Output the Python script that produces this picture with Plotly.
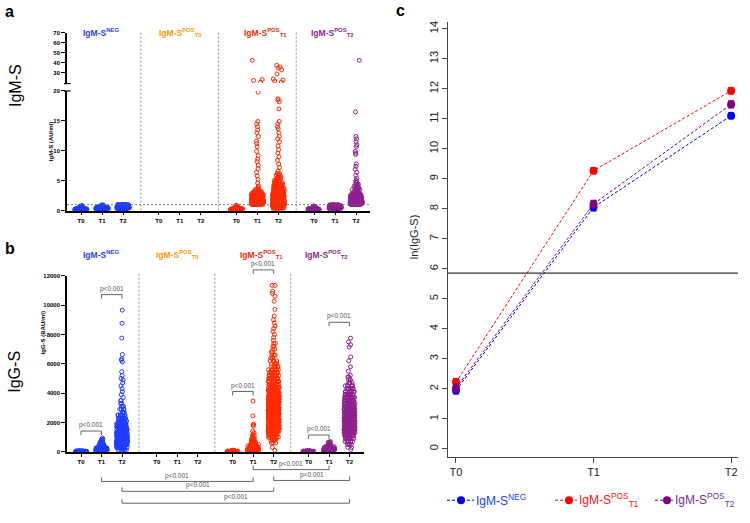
import numpy as np
import plotly.graph_objects as go

W, H = 750, 523


def px(x):
    return x / W


def py(y):
    return 1 - y / H


# ---------------------------------------------------------------- data
TIMES = ["T0", "T1", "T2"]
GROUP_LABELS = ["IgM-S<sup>NEG</sup>", "IgM-S<sup>POS</sup><sub>T0</sub>",
                "IgM-S<sup>POS</sup><sub>T1</sub>", "IgM-S<sup>POS</sup><sub>T2</sub>"]
GROUP_COLORS = ["#1f3cff", "#ff9a00", "#ff2a00", "#8e1f8e"]

# Panel a: IgM-S (AU/ml), (level, number of subjects)
a_neg_t0 = [(0.05, 35), (0.15, 40), (0.25, 32), (0.35, 18), (0.45, 9), (0.55, 5), (0.65, 3), (0.75, 2), (0.85, 1)]
a_neg_t1 = [(0.05, 14), (0.15, 26), (0.25, 38), (0.35, 45), (0.45, 40), (0.55, 26), (0.65, 12), (0.75, 6),
            (0.85, 3), (0.95, 2)]
a_neg_t2 = [(0.15, 6), (0.25, 14), (0.35, 26), (0.45, 40), (0.55, 45), (0.65, 45), (0.75, 45), (0.85, 40),
            (0.95, 26)]
a_pos1_t0 = [(0.05, 26), (0.15, 32), (0.25, 26), (0.35, 15), (0.45, 7), (0.55, 4), (0.65, 2), (0.75, 2), (0.9, 1)]
a_pos1_t1 = [(1.1, 45), (1.3, 50), (1.5, 50), (1.7, 45), (1.9, 38), (2.1, 32), (2.3, 28), (2.5, 24), (2.7, 18),
             (2.9, 12), (3.2, 6), (3.5, 4), (3.8, 2), (4.1, 1), (4.6, 1), (5.2, 1), (5.8, 1), (6.4, 1), (7.0, 1),
             (7.6, 1), (8.2, 1), (8.6, 1), (9.2, 1), (9.9, 1), (10.7, 1), (11.2, 1), (11.6, 1), (12.4, 1),
             (13.0, 1), (13.5, 1), (14.0, 1), (14.5, 1), (14.9, 1), (19.8, 1)]
a_pos1_t1_high = [21.0, 22.6, 23.5, 42.5]
a_pos1_t2 = [(0.2, 10), (0.5, 20), (0.8, 35), (1.1, 48), (1.4, 52), (1.7, 48), (2.0, 42), (2.3, 36), (2.6, 30),
             (2.9, 26), (3.2, 22), (3.5, 18), (3.8, 14), (4.1, 11), (4.4, 9), (4.7, 7), (5.0, 6), (5.3, 5),
             (5.6, 4), (5.9, 3), (6.2, 2), (6.6, 1), (7.2, 1), (7.8, 1), (8.4, 1), (9.0, 1), (9.6, 1), (10.2, 1),
             (10.8, 1), (11.5, 1), (12.0, 1), (12.4, 1), (13.0, 1), (13.7, 1), (14.0, 1), (14.5, 1), (14.9, 1),
             (17.0, 1), (18.2, 1), (18.5, 1), (18.7, 1)]
a_pos1_t2_high = [21.0, 22.0, 23.0, 24.0, 29.0, 33.0, 35.0, 36.0, 37.6]
a_pos2_t0 = [(0.05, 22), (0.15, 28), (0.25, 24), (0.35, 14), (0.45, 7), (0.55, 4), (0.65, 2), (0.8, 1)]
a_pos2_t1 = [(0.15, 10), (0.25, 18), (0.35, 26), (0.45, 32), (0.55, 35), (0.65, 35), (0.75, 32), (0.85, 22),
             (0.95, 12)]
a_pos2_t2 = [(1.1, 40), (1.3, 45), (1.5, 40), (1.7, 32), (1.9, 26), (2.1, 20), (2.3, 16), (2.5, 12), (2.7, 10),
             (2.9, 8), (3.2, 7), (3.5, 6), (3.8, 5), (4.1, 4), (4.4, 3), (4.7, 2), (5.0, 2), (5.4, 1), (5.9, 1),
             (6.4, 1), (6.9, 1), (7.4, 1), (7.8, 1), (9.4, 1), (9.6, 1), (9.9, 1), (10.7, 1), (11.0, 1),
             (11.5, 1), (12.0, 1), (12.4, 1), (16.5, 1)]
a_pos2_t2_high = [42.5]

# Panel b: IgG-S (BAU/ml), (level, number of subjects)
b_neg_t0 = [(5, 25), (15, 30), (30, 25), (50, 12)]
b_neg_t1 = [(20, 26), (80, 32), (150, 32), (250, 26), (350, 15), (450, 9), (550, 6), (650, 4), (750, 3),
            (850, 2), (940, 1)]
b_neg_t2 = [(100, 8), (300, 25), (500, 40), (700, 45), (900, 45), (1100, 42), (1300, 38), (1500, 32), (1700, 26),
            (1900, 20), (2100, 14), (2300, 10), (2500, 7), (2700, 5), (2900, 4), (3100, 3), (3300, 2), (3500, 2),
            (3700, 1), (3900, 1), (4100, 1), (4300, 1), (4500, 1), (4700, 1), (4900, 1), (5000, 1), (5200, 1),
            (5460, 1), (6130, 1), (6250, 1), (6340, 1), (6630, 1), (7755, 1), (8766, 1), (9660, 1)]
b_pos1_t0 = [(5, 20), (20, 26), (40, 20), (70, 10), (100, 3)]
b_pos1_t1 = [(30, 32), (100, 38), (200, 35), (300, 26), (400, 17), (500, 11), (600, 8), (700, 5), (800, 4),
             (900, 3), (1000, 2), (1100, 2), (1200, 1), (1300, 1), (1410, 1), (1750, 1), (1820, 1), (1890, 1),
             (2450, 1), (3460, 1)]
b_pos1_t2 = [(100, 1), (300, 1), (600, 3), (800, 6), (1000, 10), (1200, 16), (1400, 22), (1600, 30), (1800, 36),
             (2000, 42), (2200, 45), (2400, 45), (2600, 45), (2800, 45), (3000, 42), (3200, 38), (3400, 33),
             (3600, 30), (3800, 27), (4000, 24), (4200, 22), (4400, 19), (4600, 17), (4800, 15), (5000, 14),
             (5200, 12), (5400, 10), (5600, 8), (5800, 6), (6000, 5), (6200, 4), (6400, 3), (6600, 3), (6800, 2),
             (7000, 2), (7200, 2), (7400, 2), (7600, 1), (7800, 1), (8000, 1), (8200, 1), (8400, 1), (8580, 1),
             (8800, 1), (9000, 1), (9260, 1), (9710, 1), (10270, 1), (10610, 1), (10800, 1), (10950, 1),
             (11350, 2)]
b_pos2_t0 = [(5, 20), (20, 26), (40, 15), (60, 6)]
b_pos2_t1 = [(20, 20), (80, 28), (150, 32), (250, 26), (350, 15), (450, 8), (550, 4), (650, 2), (700, 1)]
b_pos2_t2 = [(150, 1), (300, 2), (500, 4), (700, 7), (900, 12), (1100, 18), (1300, 24), (1500, 30), (1700, 33),
             (1900, 36), (2100, 38), (2300, 38), (2500, 36), (2700, 33), (2900, 30), (3100, 26), (3300, 23),
             (3500, 20), (3700, 17), (3900, 14), (4100, 11), (4300, 8), (4500, 6), (4700, 4), (4900, 3), (5100, 2),
             (5210, 1), (5500, 1), (5800, 1), (6200, 1), (6470, 1), (7150, 1), (7300, 1), (7500, 1), (7750, 1)]

# Panel c: mean ln(IgG-S) with error
c_times = ["T0", "T1", "T2"]
c_neg = [1.95, 8.05, 11.10]
c_neg_err = [0.12, 0.12, 0.10]
c_pos_t1 = [2.22, 9.27, 11.93]
c_pos_t1_err = [0.12, 0.10, 0.10]
c_pos_t2 = [2.03, 8.16, 11.48]
c_pos_t2_err = [0.12, 0.12, 0.12]
c_threshold = 5.86
C_COLORS = ["#0000ff", "#ff0000", "#800080"]
C_TEXT_COLORS = ["#2040ff", "#ff1010", "#7030a0"]
C_LABELS = ["IgM-S<sup>NEG</sup>", "IgM-S<sup>POS</sup><sub>T1</sub>", "IgM-S<sup>POS</sup><sub>T2</sub>"]

# ---------------------------------------------------------------- layout helpers
GROUP_STEP = 3.7
POS = [[g * GROUP_STEP + t for t in range(3)] for g in range(4)]
ALL_POS = [p for row in POS for p in row]
ALL_TXT = TIMES * 4

FONT = "Liberation Sans, Arial, sans-serif"
fig = go.Figure()


def expand(bins):
    return np.repeat([v for v, n in bins], [n for v, n in bins]).tolist()


def swarm(xpos, vals, color, xaxis, yaxis, width):
    if len(vals) == 0:
        return
    fig.add_trace(go.Box(
        x=[xpos] * len(vals), y=vals, xaxis=xaxis, yaxis=yaxis,
        boxpoints="all", jitter=1, pointpos=0, width=width,
        fillcolor="rgba(0,0,0,0)", line=dict(color="rgba(0,0,0,0)", width=0),
        marker=dict(symbol="circle-open", size=4, color=color, line=dict(width=1, color=color)),
        hoverinfo="skip", showlegend=False))


a_sets = {(0, 0): (a_neg_t0, []), (0, 1): (a_neg_t1, []), (0, 2): (a_neg_t2, []),
          (2, 0): (a_pos1_t0, []), (2, 1): (a_pos1_t1, a_pos1_t1_high), (2, 2): (a_pos1_t2, a_pos1_t2_high),
          (3, 0): (a_pos2_t0, []), (3, 1): (a_pos2_t1, []), (3, 2): (a_pos2_t2, a_pos2_t2_high)}
b_sets = {(0, 0): b_neg_t0, (0, 1): b_neg_t1, (0, 2): b_neg_t2,
          (2, 0): b_pos1_t0, (2, 1): b_pos1_t1, (2, 2): b_pos1_t2,
          (3, 0): b_pos2_t0, (3, 1): b_pos2_t1, (3, 2): b_pos2_t2}

for (g, t), (low, high) in a_sets.items():
    swarm(POS[g][t], expand(low), GROUP_COLORS[g], "x", "y", 0.58)
    swarm(POS[g][t], high, GROUP_COLORS[g], "x", "y2", 0.58)
for (g, t), bins in b_sets.items():
    swarm(POS[g][t], expand(bins), GROUP_COLORS[g], "x3", "y3", 0.55)

# panel c lines
for vals, errs, col in [(c_neg, c_neg_err, C_COLORS[0]), (c_pos_t1, c_pos_t1_err, C_COLORS[1]),
                        (c_pos_t2, c_pos_t2_err, C_COLORS[2])]:
    fig.add_trace(go.Scatter(
        x=[0, 1, 2], y=vals, xaxis="x4", yaxis="y4", mode="lines+markers",
        line=dict(color=col, width=1, dash="3px,2px"),
        marker=dict(size=8, color=col),
        error_y=dict(type="data", array=errs, color=col, thickness=1.2, width=3),
        hoverinfo="skip", showlegend=False))

# ---------------------------------------------------------------- axes
small_tick = dict(family=FONT, size=6, color="black", weight="bold")
axis_ab = dict(showline=True, linecolor="black", linewidth=1.5, ticks="outside", ticklen=3, tickwidth=1.2,
               tickcolor="black", showgrid=False, zeroline=False, tickfont=small_tick)

a_x0 = -0.667
a_x1 = a_x0 + (370 - 67) / 21.0
b_x0 = -0.683
b_x1 = b_x0 + (364 - 67) / 20.5

fig.update_layout(
    width=W, height=H, margin=dict(l=0, r=0, t=0, b=0), paper_bgcolor="white", plot_bgcolor="rgba(0,0,0,0)",
    boxmode="overlay", showlegend=False,
    xaxis=dict(axis_ab, domain=[px(67), px(370)], range=[a_x0, a_x1], type="linear", anchor="y",
               tickvals=ALL_POS, ticktext=ALL_TXT),
    yaxis=dict(axis_ab, domain=[py(210), py(89)], range=[0, 20], anchor="x", tickvals=[0, 5, 10, 15, 20],
               ticklen=4),
    yaxis2=dict(axis_ab, domain=[py(81), py(30)], range=[20, 70], anchor="x", tickvals=[30, 40, 50, 60, 70],
                ticklen=4),
    xaxis3=dict(axis_ab, domain=[px(67), px(364)], range=[b_x0, b_x1], type="linear", anchor="y3",
                tickvals=ALL_POS, ticktext=ALL_TXT),
    yaxis3=dict(axis_ab, domain=[py(454), py(276)], range=[0, 12000], anchor="x3", tickformat="d",
                tickvals=[0, 2000, 4000, 6000, 8000, 10000, 12000], ticklen=4),
    xaxis4=dict(domain=[px(448), px(738)], range=[-0.058, 2.05], anchor="y4", tickvals=[0, 1, 2],
                ticktext=c_times, showline=True, linecolor="#444", linewidth=1, ticks="outside", ticklen=5,
                tickcolor="#444", showgrid=False, zeroline=False,
                tickfont=dict(family=FONT, size=11, color="#222")),
    yaxis4=dict(domain=[py(459), py(19)], range=[-0.26, 14.23], anchor="x4", tickvals=list(range(0, 15)),
                tickangle=-90, showline=True, linecolor="#444", linewidth=1, ticks="outside", ticklen=5,
                tickcolor="#444", showgrid=False, zeroline=False,
                tickfont=dict(family=FONT, size=11, color="#222")),
)

shapes = []
ann = []

# separators and threshold in a
for sep in [2.85, 6.55, 10.25]:
    shapes.append(dict(type="line", xref="x", yref="paper", x0=sep, x1=sep, y0=py(210), y1=py(28),
                       line=dict(color="#777", width=0.8, dash="2px,2px")))
    shapes.append(dict(type="line", xref="x3", yref="paper", x0=sep - 0.02, x1=sep - 0.02, y0=py(454),
                       y1=py(274), line=dict(color="#777", width=0.8, dash="2px,2px")))
shapes.append(dict(type="line", xref="paper", yref="y", x0=px(67), x1=px(370), y0=1, y1=1,
                   line=dict(color="#666", width=0.8, dash="2px,2px")))
# axis break marks
shapes.append(dict(type="line", xref="paper", yref="paper", x0=px(64), x1=px(70.5), y0=py(81.5), y1=py(81.5),
                   line=dict(color="black", width=1.2)))
shapes.append(dict(type="line", xref="paper", yref="paper", x0=px(64), x1=px(70.5), y0=py(89), y1=py(89),
                   line=dict(color="black", width=1.2)))

# threshold in c
shapes.append(dict(type="line", xref="x4 domain", yref="y4", x0=0, x1=1, y0=c_threshold, y1=c_threshold,
                   line=dict(color="#333", width=1.2)))

# brackets in b
pfont = dict(family=FONT, size=6.5, color="#555")
above = [(0, 1, 433), (1, 2, 295), (7.4, 8.4, 393), (8.4, 9.4, 270), (11.1, 12.1, 437), (12.1, 13.1, 323)]
for x0, x1, yl in above:
    shapes.append(dict(type="path", xref="x3", yref="paper",
                       path=f"M {x0},{py(yl + 4)} L {x0},{py(yl)} L {x1},{py(yl)} L {x1},{py(yl + 4)}",
                       line=dict(color="#555", width=0.9)))
    ann.append(dict(text="p<0.001", xref="x3", yref="paper", x=(x0 + x1) / 2, y=py(yl - 6), showarrow=False,
                    font=pfont, xanchor="center", yanchor="middle"))
below = [(8.4, 12.1, 472), (9.4, 13.1, 483), (1, 8.4, 484), (2, 9.4, 494), (2, 13.1, 506)]
for x0, x1, yl in below:
    shapes.append(dict(type="path", xref="x3", yref="paper",
                       path=f"M {x0},{py(yl - 4)} L {x0},{py(yl)} L {x1},{py(yl)} L {x1},{py(yl - 4)}",
                       line=dict(color="#555", width=0.9)))
    ann.append(dict(text="p<0.001", xref="x3", yref="paper", x=(x0 + x1) / 2, y=py(yl - 6), showarrow=False,
                    font=pfont, xanchor="center", yanchor="middle"))

# group headers
hdr_a_x = [101, 180, 265, 332]
hdr_b_x = [101, 177, 261, 326]
for g in range(4):
    f = dict(family=FONT, size=8.5, color=GROUP_COLORS[g], weight="bold")
    ann.append(dict(text=GROUP_LABELS[g], xref="paper", yref="paper", x=px(hdr_a_x[g]), y=py(30),
                    showarrow=False, font=f, xanchor="center", yanchor="middle"))
    ann.append(dict(text=GROUP_LABELS[g], xref="paper", yref="paper", x=px(hdr_b_x[g]), y=py(254),
                    showarrow=False, font=f, xanchor="center", yanchor="middle"))

# panel letters and side labels
for lab, x, y in [("a", 9, 9), ("b", 10, 248), ("c", 401, 8)]:
    ann.append(dict(text=f"<b>{lab}</b>", xref="paper", yref="paper", x=px(x), y=py(y), showarrow=False,
                    font=dict(family=FONT, size=16, color="black"), xanchor="center", yanchor="middle"))
for lab, y in [("IgM-S", 84), ("IgG-S", 373)]:
    ann.append(dict(text=lab, xref="paper", yref="paper", x=px(15), y=py(y), showarrow=False, textangle=-90,
                    font=dict(family=FONT, size=16, color="black"), xanchor="center", yanchor="middle"))
ann.append(dict(text="IgM-S (AU/ml)", xref="paper", yref="paper", x=px(46), y=py(119), showarrow=False,
                textangle=-90, font=dict(family=FONT, size=6, color="black", weight="bold")))
ann.append(dict(text="IgG-S (BAU/ml)", xref="paper", yref="paper", x=px(38), y=py(358), showarrow=False,
                textangle=-90, font=dict(family=FONT, size=6, color="black", weight="bold")))
ann.append(dict(text="ln(IgG-S)", xref="paper", yref="paper", x=px(414), y=py(237), showarrow=False,
                textangle=-90, font=dict(family=FONT, size=11, color="#222")))

# legend of c
leg = [(447, 474, 461), (555, 577, 569), (655, 673, 667)]
for i, (l0, l1, m) in enumerate(leg):
    shapes.append(dict(type="line", xref="paper", yref="paper", x0=px(l0), x1=px(l1), y0=py(503), y1=py(503),
                       line=dict(color=C_COLORS[i], width=1, dash="3px,2px")))
    shapes.append(dict(type="circle", xref="paper", yref="paper", x0=px(m - 4), x1=px(m + 4), y0=py(507),
                       y1=py(499), fillcolor=C_COLORS[i], line=dict(width=0)))
    ann.append(dict(text=C_LABELS[i], xref="paper", yref="paper", x=px(l1), y=py(503), showarrow=False,
                    font=dict(family=FONT, size=12, color=C_TEXT_COLORS[i]), xanchor="left",
                    yanchor="middle"))

fig.update_layout(shapes=shapes, annotations=ann)

fig.write_html("out.html", config={"displayModeBar": False},
               post_script="document.body.style.margin='0px';")
